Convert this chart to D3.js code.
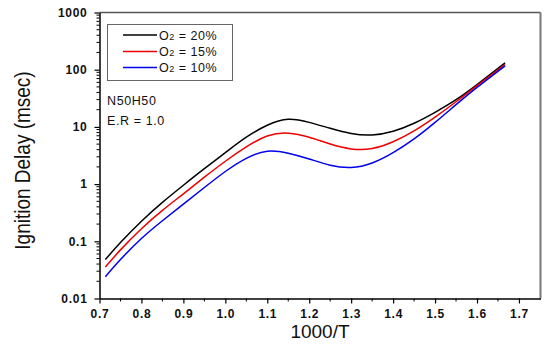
<!DOCTYPE html>
<html><head><meta charset="utf-8">
<script src="https://cdn.jsdelivr.net/npm/d3@7"></script>
<style>body{margin:0;background:#fff}svg{display:block;font-family:Arial,"Liberation Sans",sans-serif}</style>
</head><body><svg id="c" width="545" height="351"></svg>
<script>
const xVals = [0.714,0.75,0.8,0.85,0.9,0.95,1.0,1.05,1.1,1.15,1.2,1.25,1.3,1.35,1.4,1.45,1.5,1.55,1.6,1.667];
const o2_20 = [0.048,0.095,0.224,0.479,0.955,1.86,3.55,6.61,10.7,13.6,12.0,9.44,7.67,7.24,8.41,11.6,18.0,29.9,55.0,132];
const o2_15 = [0.0355,0.0708,0.166,0.347,0.676,1.32,2.51,4.47,6.92,7.76,6.61,5.01,4.12,4.2,5.5,8.51,14.8,27.5,52.5,123];
const o2_10 = [0.024,0.0479,0.112,0.229,0.447,0.871,1.66,2.82,3.76,3.47,2.75,2.14,1.95,2.34,3.55,6.17,12.0,24.5,49.0,117];
const seriesNames = ["20%","15%","10%"];
const seriesColors = ["#000000","#ee0000","#0000ee"];
const xTicks = [0.7,0.8,0.9,1.0,1.1,1.2,1.3,1.4,1.5,1.6,1.7];
const yTicks = [0.01,0.1,1,10,100,1000];

const svg = d3.select("#c");
const L=99.5, R=540.5, T=12.5, B=298.5;
const x = d3.scaleLinear().domain([0.7,1.7514]).range([L,R]);
const y = d3.scaleLog().domain([0.01,1000]).range([B,T]);

svg.append("line").attr("x1",L).attr("x2",R).attr("y1",T).attr("y2",T).attr("stroke","#555").attr("stroke-width",1.5);
svg.append("line").attr("x1",R).attr("x2",R).attr("y1",T).attr("y2",B).attr("stroke","#777").attr("stroke-width",2);

const minorY = [];
for (let e=-2;e<3;e++) for (let k=2;k<10;k++) minorY.push(k*Math.pow(10,e));
svg.append("g").selectAll("line").data(minorY).join("line")
  .attr("x1",L-3).attr("x2",L).attr("y1",d=>y(d)).attr("y2",d=>y(d)).attr("stroke","#000").attr("stroke-width",1);
const minorX = d3.range(0.75,1.75,0.1);
svg.append("g").selectAll("line").data(minorX).join("line")
  .attr("x1",d=>x(d)).attr("x2",d=>x(d)).attr("y1",B).attr("y2",B+3).attr("stroke","#000").attr("stroke-width",1);

const xAxis = svg.append("g").attr("transform",`translate(0,${B})`)
  .call(d3.axisBottom(x).tickValues(xTicks).tickFormat(d3.format(".1f")).tickSize(5).tickSizeOuter(0).tickPadding(6));
const yAxis = svg.append("g").attr("transform",`translate(${L},0)`)
  .call(d3.axisLeft(y).tickValues(yTicks).tickFormat(d=>d>=1?d3.format("d")(d):String(d)).tickSize(5).tickSizeOuter(0).tickPadding(7));
[xAxis,yAxis].forEach(a=>{
  a.select(".domain").attr("stroke","#000").attr("stroke-width",1.5);
  a.selectAll(".tick line").attr("stroke","#000").attr("stroke-width",1.2);
  a.selectAll("text").attr("font-size","12px").attr("font-weight","bold").attr("letter-spacing","0.7px").attr("fill","#111").attr("font-family","Arial, Liberation Sans, sans-serif");
});

const line = d3.line().x((d,i)=>x(xVals[i])).y(d=>y(d)).curve(d3.curveNatural);
[o2_20,o2_15,o2_10].forEach((s,i)=>{
  svg.append("path").attr("d",line(s)).attr("fill","none").attr("stroke",seriesColors[i]).attr("stroke-width",1.5);
});

const lg = svg.append("g");
lg.append("rect").attr("x",107.5).attr("y",24.5).attr("width",125).attr("height",56).attr("fill","#fff").attr("stroke","#666").attr("stroke-width",1);
const rowsY=[35,51.5,67.5];
seriesNames.forEach((n,i)=>{
  lg.append("line").attr("x1",123).attr("x2",157).attr("y1",rowsY[i]).attr("y2",rowsY[i]).attr("stroke",seriesColors[i]).attr("stroke-width",1.5);
  const t = lg.append("text").attr("x",159).attr("y",rowsY[i]+4.5).attr("font-size","12.5px").attr("letter-spacing","0.5px").attr("fill","#111");
  t.append("tspan").text("O");
  t.append("tspan").attr("font-size","9px").text("2");
  t.append("tspan").text(" = "+n);
});

svg.append("text").attr("x",107).attr("y",105).attr("font-size","12.5px").attr("letter-spacing","0.6px").attr("fill","#111").text("N50H50");
svg.append("text").attr("x",107).attr("y",124.5).attr("font-size","12.5px").attr("letter-spacing","0.6px").attr("fill","#111").text("E.R = 1.0");

svg.append("text").attr("transform",`translate(30,160.5) rotate(-90) scale(1,1.15)`).attr("text-anchor","middle")
  .attr("font-size","19px").attr("fill","#111").text("Ignition Delay (msec)");
svg.append("text").attr("x",320).attr("y",338).attr("text-anchor","middle").attr("font-size","19px").attr("fill","#111").text("1000/T");
</script></body></html>
